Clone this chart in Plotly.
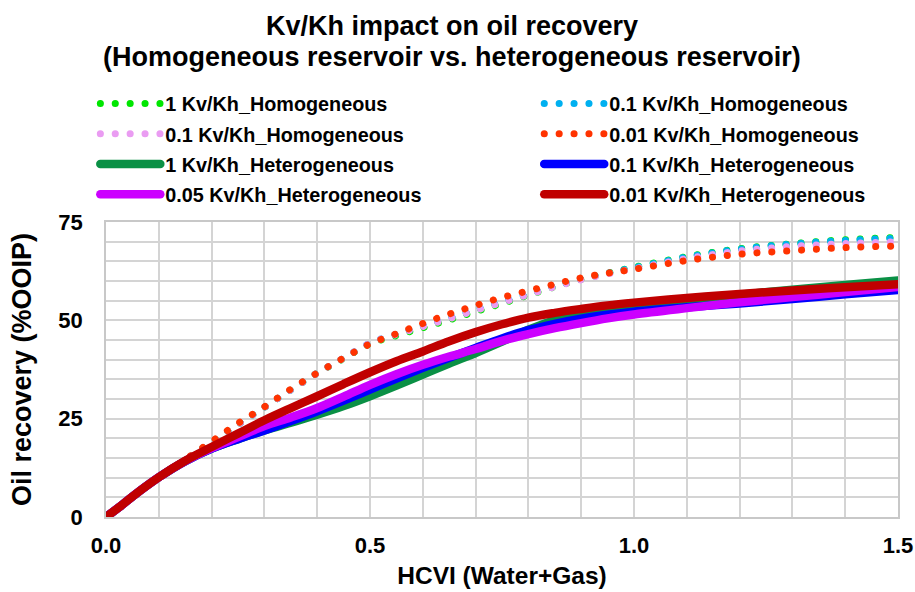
import plotly.graph_objects as go

# HCVI sample points (Water+Gas)
hcvi = [0, 0.025, 0.05, 0.1, 0.15, 0.2, 0.25, 0.3, 0.35, 0.4, 0.45, 0.5, 0.55, 0.6,
        0.65, 0.7, 0.75, 0.8, 0.85, 0.9, 0.95, 1.0, 1.1, 1.2, 1.3, 1.4, 1.5]

# Oil recovery (%OOIP) – homogeneous reservoir
homo_1 = [0, 2.6, 5.3, 10.1, 14.5, 19.0, 23.5, 27.9, 32.3, 36.6, 40.3, 44.0, 46.1, 48.1,
          50.1, 52.2, 54.3, 56.4, 58.5, 60.4, 62.0, 63.5, 66.2, 68.2, 69.5, 70.5, 71.1]
homo_01_a = [0, 2.6, 5.3, 10.1, 14.5, 19.0, 23.5, 27.9, 32.3, 36.6, 40.4, 44.2, 46.5, 48.6,
             50.6, 52.7, 54.7, 56.7, 58.7, 60.5, 62.0, 63.4, 66.1, 68.1, 69.4, 70.3, 70.9]
homo_01_b = [0, 2.6, 5.3, 10.1, 14.5, 19.0, 23.5, 27.9, 32.3, 36.6, 40.4, 44.2, 46.4, 48.4,
             50.4, 52.5, 54.5, 56.5, 58.5, 60.3, 61.8, 63.1, 65.7, 67.6, 68.8, 69.5, 70.0]
homo_001 = [0, 2.6, 5.3, 10.1, 14.6, 19.2, 23.8, 28.0, 32.5, 36.6, 40.4, 44.0, 46.6, 49.2,
            51.6, 53.8, 55.8, 57.5, 59.2, 60.8, 62.0, 63.0, 65.2, 66.8, 67.7, 68.5, 68.9]

# Oil recovery (%OOIP) – heterogeneous reservoir
hetero_1 = [0, 2.5, 5.2, 10.1, 14.2, 17.4, 19.8, 22.0, 24.0, 26.0, 28.2, 30.7, 33.4, 36.2,
            39.0, 41.7, 44.6, 47.6, 50.1, 52.0, 53.0, 53.7, 55.2, 56.5, 57.8, 59.0, 60.1]
hetero_01 = [0, 2.5, 5.2, 10.1, 14.2, 17.4, 19.8, 22.0, 24.4, 26.9, 29.6, 32.4, 35.2, 37.9,
             40.5, 43.0, 45.4, 47.5, 49.1, 50.4, 51.4, 52.2, 53.3, 54.3, 55.4, 56.6, 57.7]
hetero_005 = [0, 2.5, 5.2, 10.1, 14.2, 17.5, 20.3, 23.1, 25.3, 27.7, 30.6, 33.6, 36.3, 38.7,
              40.8, 42.7, 44.8, 46.5, 48.0, 49.3, 50.5, 51.5, 53.1, 54.6, 55.9, 57.2, 58.5]
hetero_001 = [0, 2.5, 5.2, 10.1, 14.3, 17.8, 21.2, 24.6, 27.7, 30.7, 33.8, 36.8, 39.6, 42.1,
              44.7, 47.0, 49.0, 50.7, 51.9, 52.9, 53.8, 54.5, 55.7, 56.7, 57.6, 58.4, 59.2]

title_lines = ["Kv/Kh impact on oil recovery",
               "(Homogeneous reservoir vs. heterogeneous reservoir)"]

# name, values, colour, style, legend column
series = [
    ("1 Kv/Kh_Homogeneous", homo_1, "#00e600", "dot", "legend"),
    ("0.1 Kv/Kh_Homogeneous", homo_01_a, "#00b0f0", "dot", "legend2"),
    ("0.1 Kv/Kh_Homogeneous", homo_01_b, "#ea9cf2", "dot", "legend"),
    ("0.01 Kv/Kh_Homogeneous", homo_001, "#ff3300", "dot", "legend2"),
    ("1 Kv/Kh_Heterogeneous", hetero_1, "#0a9045", "solid", "legend"),
    ("0.1 Kv/Kh_Heterogeneous", hetero_01, "#0000ff", "solid", "legend2"),
    ("0.05 Kv/Kh_Heterogeneous", hetero_005, "#cc00ff", "solid", "legend"),
    ("0.01 Kv/Kh_Heterogeneous", hetero_001, "#c00000", "solid", "legend2"),
]

FONT = "Liberation Sans, Arial, sans-serif"

fig = go.Figure()
for i, (name, vals, color, style, leg) in enumerate(series):
    if style == "dot":
        line = dict(color=color, width=7, dash="0.1px,14.8px", shape="spline")
    else:
        line = dict(color=color, width=8.5, shape="spline")
    fig.add_trace(go.Scatter(x=hcvi, y=vals, mode="lines", name=name, line=line,
                             legend=leg, legendgroup=f"g{i}"))

legend_common = dict(
    orientation="v", xanchor="left", y=1.467, yanchor="top",
    itemwidth=60, tracegroupgap=1.5, itemclick=False, itemdoubleclick=False,
    font=dict(size=19.8, family=FONT, weight="bold"),
    bgcolor="rgba(0,0,0,0)", borderwidth=0,
)

grid = "#d4d4d4"
fig.update_layout(
    width=915, height=592,
    margin=dict(l=106, r=17, t=222, b=75),
    paper_bgcolor="white", plot_bgcolor="white",
    font=dict(family=FONT, color="black", weight="bold"),
    legend=dict(x=-0.0135, **legend_common),
    legend2=dict(x=0.547, **legend_common),
    xaxis=dict(
        range=[0, 1.5], dtick=0.5, tick0=0, tickformat=".1f", automargin=False,
        showgrid=True, gridcolor=grid, gridwidth=1.5,
        minor=dict(dtick=0.1, showgrid=True, gridcolor=grid, gridwidth=1.5),
        showline=True, linecolor="#c8c8c8", linewidth=1.5, mirror=True,
        zeroline=False, ticks="", ticklabelstandoff=8,
        tickfont=dict(size=22, family=FONT, weight="bold"),
        title=dict(text="HCVI (Water+Gas)", font=dict(size=24.5, family=FONT, weight="bold"),
                   standoff=10),
    ),
    yaxis=dict(
        range=[0, 75], dtick=25, tick0=0, automargin=False,
        showgrid=True, gridcolor=grid, gridwidth=1.5,
        minor=dict(dtick=5, showgrid=True, gridcolor=grid, gridwidth=1.5),
        showline=True, linecolor="#c8c8c8", linewidth=1.5, mirror=True,
        zeroline=False, ticks="", ticklabelstandoff=17,
        tickfont=dict(size=22, family=FONT, weight="bold"),
        title=dict(text="Oil recovery (%OOIP)", font=dict(size=27, family=FONT, weight="bold"),
                   standoff=19),
    ),
)

# two-line chart title
for text, ypos in zip(title_lines, [1.664, 1.561]):
    fig.add_annotation(text=text, xref="paper", yref="paper", x=0.437, y=ypos,
                       xanchor="center", yanchor="middle", showarrow=False,
                       font=dict(size=27, family=FONT, weight="bold", color="black"))

# round caps turn the tiny dashes of the dotted series into round dots
round_caps = """
var st = document.createElement('style');
st.textContent = '.js-line{stroke-linecap:round;}';
document.head.appendChild(st);
"""
fig.write_html("out.html", post_script=round_caps)
